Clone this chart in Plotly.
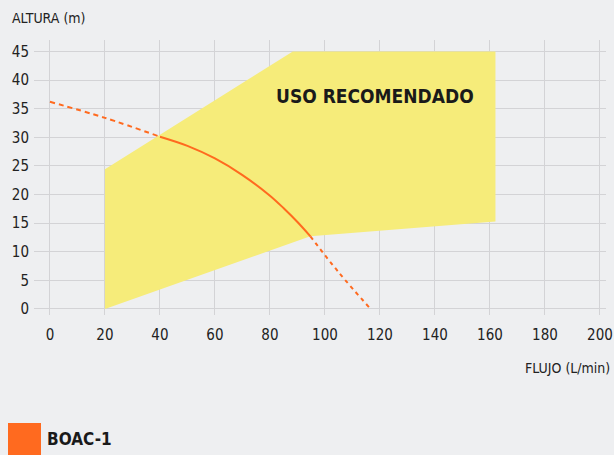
import plotly.graph_objects as go

# ---- data ----
zone_flow = [20, 20, 88.3, 162, 162, 94.7, 20]
zone_height = [0, 24.4, 45, 45, 15.3, 12.7, 0]

curve_flow = [40, 50, 60, 70, 80, 85, 90, 94.7]
curve_height = [30.1, 28.5, 26.3, 23.4, 19.8, 17.6, 15.2, 12.7]

ext_left_flow = [0, 20, 40]
ext_left_height = [36.2, 33.4, 30.1]

ext_right_flow = [94.7, 105, 116.6]
ext_right_height = [12.7, 6.4, 0]

x_ticks = [0, 20, 40, 60, 80, 100, 120, 140, 160, 180, 200]
y_ticks = [0, 5, 10, 15, 20, 25, 30, 35, 40, 45]

series_name = "BOAC-1"
zone_label = "USO RECOMENDADO"

# ---- style ----
W, H = 614, 455
L, R, T, B = 34, 8, 40, 140
FONT = "DejaVu Sans Condensed, Liberation Sans Narrow, Roboto, sans-serif"
BG = "#EEEFF1"
YELLOW = "#F6EC7A"
ORANGE = "#FF6A1F"
GRID = "#D3D3D6"
TEXT = "#222222"

pw = W - L - R
ph = H - T - B


def px_x(p):
    return (p - L) / pw


def px_y(p):
    return (H - B - p) / ph


fig = go.Figure()
fig.add_trace(go.Scatter(x=zone_flow, y=zone_height, fill="toself", fillcolor=YELLOW,
                         line=dict(width=0), mode="lines", hoverinfo="skip", showlegend=False))
fig.add_trace(go.Scatter(x=ext_left_flow, y=ext_left_height, mode="lines", line_shape="spline",
                         line=dict(color=ORANGE, width=2, dash="5px,4px"), showlegend=False))
fig.add_trace(go.Scatter(x=ext_right_flow, y=ext_right_height, mode="lines", line_shape="spline",
                         line=dict(color=ORANGE, width=2, dash="4px,4px"), showlegend=False))
fig.add_trace(go.Scatter(x=curve_flow, y=curve_height, mode="lines", line_shape="spline",
                         line=dict(color=ORANGE, width=2, smoothing=1.0), name=series_name,
                         showlegend=False))

fig.update_layout(
    width=W, height=H,
    margin=dict(l=L, r=R, t=T, b=B, autoexpand=False),
    paper_bgcolor=BG, plot_bgcolor=BG,
    font=dict(family=FONT, size=14, color=TEXT),
    xaxis=dict(range=[-5.8, 202.2], tickvals=x_ticks, showgrid=True, gridcolor=GRID, gridwidth=1,
               zeroline=False, showline=False, ticks="", ticklabelstandoff=9,
               tickfont=dict(family=FONT, size=15, color=TEXT)),
    yaxis=dict(range=[-1.05, 47.0], tickvals=y_ticks, showgrid=True, gridcolor=GRID, gridwidth=1,
               zeroline=False, showline=False, ticks="", ticklabelstandoff=4,
               tickfont=dict(family=FONT, size=15, color=TEXT)),
    annotations=[
        dict(text="ALTURA (m)", xref="paper", yref="paper", x=px_x(10), y=px_y(18),
             xanchor="left", yanchor="middle", showarrow=False,
             font=dict(family=FONT, size=14, color=TEXT)),
        dict(text="FLUJO (L/min)", xref="paper", yref="paper", x=px_x(612), y=px_y(368),
             xanchor="right", yanchor="middle", showarrow=False,
             font=dict(family=FONT, size=14, color=TEXT)),
        dict(text="<b>" + zone_label + "</b>", xref="paper", yref="paper", x=px_x(375.5), y=px_y(96),
             xanchor="center", yanchor="middle", showarrow=False,
             font=dict(family=FONT, size=19, color="#1A1A1A")),
        dict(text="<b>" + series_name + "</b>", xref="paper", yref="paper", x=px_x(45), y=px_y(439),
             xanchor="left", yanchor="middle", showarrow=False,
             font=dict(family=FONT, size=17, color="#1A1A1A")),
    ],
    shapes=[
        dict(type="rect", xref="paper", yref="paper", x0=px_x(8), x1=px_x(41), y0=px_y(423), y1=px_y(457),
             fillcolor=ORANGE, line=dict(width=0), layer="above"),
    ],
)

fig.write_html("out.html", config={"displayModeBar": False},
               post_script="document.body.style.margin='0';")
